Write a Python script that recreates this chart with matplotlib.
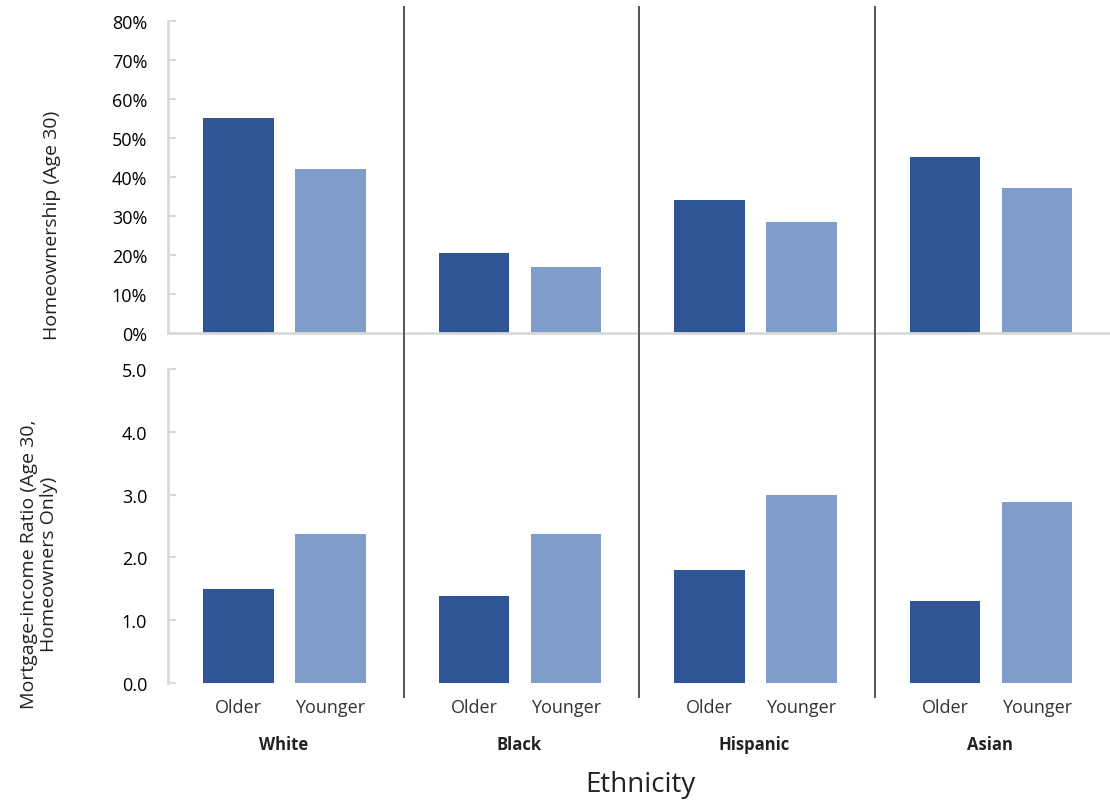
import numpy as np
import matplotlib.pyplot as plt
from matplotlib.lines import Line2D
from matplotlib.transforms import blended_transform_factory
from matplotlib.ticker import PercentFormatter

plt.rcParams['font.family'] = ['Open Sans', 'DejaVu Sans']

groups = ['White', 'Black', 'Hispanic', 'Asian']
ages = ['Older', 'Younger']
# homeownership at age 30 (%)
own_older = [55.1, 20.5, 34.1, 45.1]
own_younger = [42.0, 16.9, 28.5, 37.2]
# mortgage-income ratio, homeowners only
mir_older = [1.50, 1.39, 1.80, 1.31]
mir_younger = [2.37, 2.37, 2.99, 2.88]

dark = '#2F5597'
light = '#7F9DC9'
axis_grey = '#D9D9D9'

W, H = 1110, 803
fig = plt.figure(figsize=(W / 100, H / 100), dpi=100)

def px_axes(left, top, right, bottom):
    return fig.add_axes([left / W, 1 - bottom / H, (right - left) / W, (bottom - top) / H])

ax1 = px_axes(168, 22, 1110, 334)
ax2 = px_axes(168, 370, 1110, 684)

gi = np.arange(len(groups))
x_old = 2 * gi + 0.6
x_young = 2 * gi + 1.38
bw = 0.6

ax1.bar(x_old, own_older, bw, color=dark)
ax1.bar(x_young, own_younger, bw, color=light)
ax2.bar(x_old, mir_older, bw, color=dark)
ax2.bar(x_young, mir_younger, bw, color=light)

for ax in (ax1, ax2):
    ax.set_xlim(0, 8)
    for s in ('top', 'right'):
        ax.spines[s].set_visible(False)
    ax.spines['left'].set_color(axis_grey)
    ax.spines['left'].set_linewidth(2)
    ax.tick_params(axis='y', direction='in', length=6, width=1.5, color=axis_grey,
                   pad=15, labelsize=13, labelcolor='#000000')

ax1.set_ylim(0, 80)
ax1.set_yticks(np.arange(0, 81, 10))
ax1.yaxis.set_major_formatter(PercentFormatter(decimals=0))
ax1.spines['bottom'].set_color(axis_grey)
ax1.spines['bottom'].set_linewidth(2)
ax1.set_xticks([])

ax2.set_ylim(0, 5)
ax2.set_yticks(np.arange(0, 5.01, 1))
ax2.set_yticklabels([f'{v:.1f}' for v in np.arange(0, 5.01, 1)])
ax2.spines['bottom'].set_visible(False)
ax2.set_xticks(np.concatenate([x_old, x_young]))
ax2.set_xticklabels(ages[:1] * len(groups) + ages[1:] * len(groups))
ax2.tick_params(axis='x', length=0, pad=11, labelsize=13, labelcolor='#333333')

# group names and separators
tr = blended_transform_factory(ax2.transData, fig.transFigure)
for i, g in enumerate(groups):
    fig.text(2 * i + 0.98, 1 - 745 / H, g, transform=tr, ha='center', va='center',
             fontsize=12, fontweight='bold', color='#222222')
for i in range(1, len(groups)):
    fig.add_artist(Line2D([2 * i, 2 * i], [1 - 698 / H, 1 - 8 / H], transform=tr,
                          color='#555555', linewidth=1.4))

fig.text(640 / W, 1 - 785 / H, 'Ethnicity', ha='center', va='center', fontsize=20, color='#222222')
fig.text(52 / W, 1 - 225 / H, 'Homeownership (Age 30)', rotation=90, ha='center', va='center',
         fontsize=14, color='#222222')
fig.text(39 / W, 1 - 564 / H, 'Mortgage-income Ratio (Age 30,\nHomeowners Only)', rotation=90,
         ha='center', va='center', fontsize=14, color='#222222', linespacing=1.2)

fig.savefig('out.png', dpi=100)
